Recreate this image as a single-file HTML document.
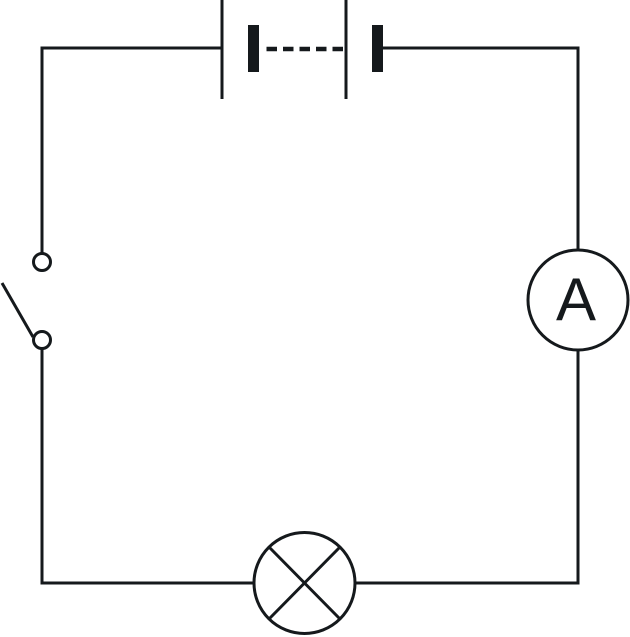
<!DOCTYPE html>
<html><head><meta charset="utf-8"><style>
html,body{margin:0;padding:0;background:#fff;width:630px;height:637px;overflow:hidden}
svg{display:block}
</style></head><body>
<svg width="630" height="637" viewBox="0 0 630 637" xmlns="http://www.w3.org/2000/svg">
<g stroke="#15191c" stroke-width="3" fill="none" stroke-linecap="butt">
<polyline points="222,48 42,48 42,253"/>
<polyline points="383,48 578,48 578,250"/>
<line x1="222" y1="0" x2="222" y2="99"/>
<line x1="346" y1="0" x2="346" y2="99"/>
<line x1="266.5" y1="49" x2="345" y2="49" stroke-width="4.5" stroke-dasharray="10.5,6"/>
<polyline points="42,349 42,583 253,583"/>
<polyline points="356,583 578,583 578,350"/>
<circle cx="42" cy="262" r="8.5"/>
<circle cx="42" cy="340" r="8.5"/>
<line x1="2" y1="283" x2="33" y2="337"/>
<circle cx="578" cy="300" r="50"/>
<circle cx="304.5" cy="583" r="50.5"/>
<line x1="269" y1="547" x2="340" y2="619"/>
<line x1="340" y1="547" x2="269" y2="619"/>
</g>
<rect x="248" y="25" width="11" height="47" fill="#15191c"/>
<rect x="372" y="25" width="11" height="47" fill="#15191c"/>
<text x="576" y="320" text-anchor="middle" font-family="Liberation Sans, DejaVu Sans, sans-serif" font-size="60" fill="#15191c">A</text>
</svg>
</body></html>
